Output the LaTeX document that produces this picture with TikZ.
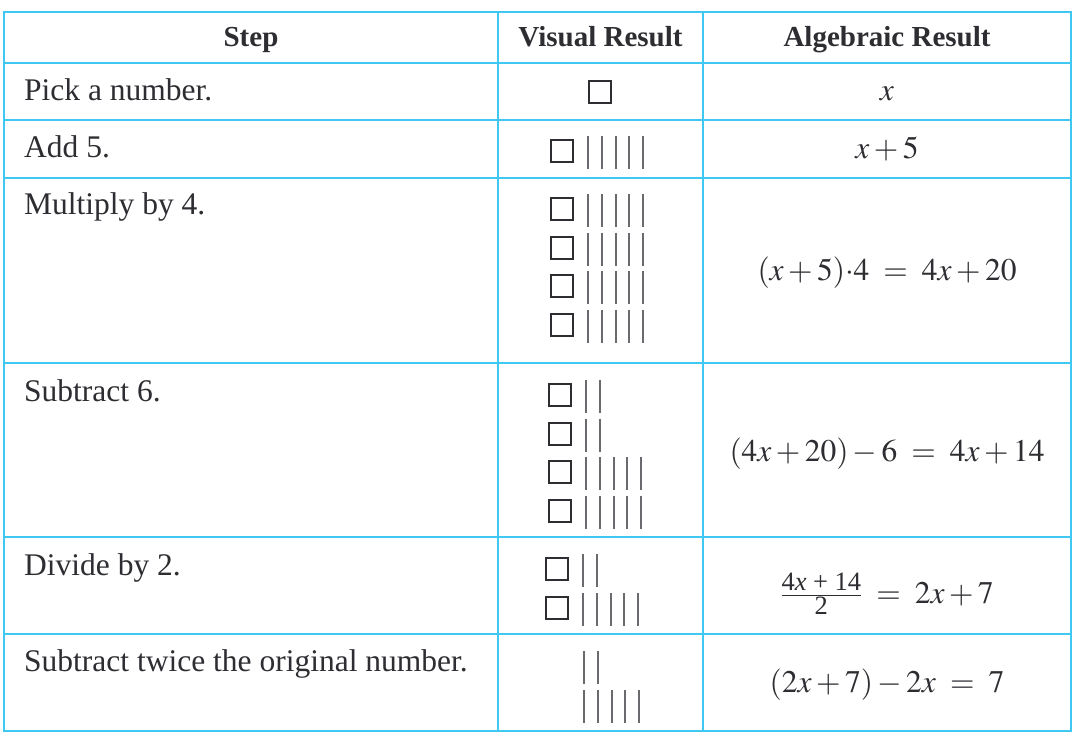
\documentclass[tikz,border=0pt]{standalone}
\usepackage{mathptmx}
\usepackage{fontspec}
\setmainfont{Liberation Serif}
\usetikzlibrary{positioning}
\definecolor{tablecyan}{RGB}{62,200,242}
\definecolor{ink}{RGB}{45,45,50}
\definecolor{tallygray}{RGB}{105,105,110}

% one unit square and a run of tally bars
\newcommand{\unitbox}[2]{\draw[unitsq] (#1,#2) rectangle ++(22,22);}
\newcommand{\tallies}[3]{\foreach \k in {1,...,#3} \draw[tally] ({#1+(\k-1)*13.8},#2) -- ++(0,33);}
\newcommand{\fracpart}[1]{\hbox{\fontsize{26.5}{28}\selectfont #1}}

\begin{document}
\begin{tikzpicture}[x=1pt,y=-1pt,
      gridline/.style={draw=tablecyan, line width=2.5pt},
      head/.style={anchor=base, inner sep=0, text=ink, font=\fontsize{29}{34}\selectfont\bfseries},
      stepcell/.style={anchor=base west, inner sep=0, text=ink, font=\fontsize{31.5}{36}\selectfont},
      algcell/.style={anchor=base, inner sep=0, text=ink, font=\fontsize{31.5}{36}\selectfont},
      unitsq/.style={draw=ink, line width=2pt},
      tally/.style={draw=tallygray, line width=2pt}
      ]
      \useasboundingbox (0,0) rectangle (1076,740);

      % Grid
      \draw[gridline] (4,12) rectangle (1071,731);
      \foreach \y in {63,120,178,363,537,634}
        \draw[gridline] (4,\y) -- (1071,\y);
      \foreach \x in {498,703}
        \draw[gridline] (\x,12) -- (\x,731);

      % Header
      \node[head] (hstep) at (251,46) {Step};
      \node[head] (hvis) at (600.5,46) {Visual Result};
      \node[head] (halg) at (887,46) {Algebraic Result};

      % Steps
      \node[stepcell] (s1) at (24,100) {Pick a number.};
      \node[stepcell] (s2) at (24,157) {Add 5.};
      \node[stepcell] (s3) at (24,214) {Multiply by 4.};
      \node[stepcell] (s4) at (24,401) {Subtract 6.};
      \node[stepcell] (s5) at (24,575) {Divide by 2.};
      \node[stepcell] (s6) at (24,671) {Subtract twice the original number.};

      % Algebraic results
      \node[algcell] (a1) at (887,100) {$x$};
      \node[algcell] (a2) at (887,158) {$x+5$};
      \node[algcell] (a3) at (887,280) {$(x+5){\cdot}4 \;=\; 4x+20$};
      \node[algcell] (a4) at (887,461) {$(4x+20)-6 \;=\; 4x+14$};
      \node[algcell] (a5) at (887,603) {$\frac{\fracpart{4\textit{x} + 14}}{\fracpart{2}} \;=\; 2x+7$};
      \node[algcell] (a6) at (887,692) {$(2x+7)-2x \;=\; 7$};

      % Visual results
      \unitbox{589}{81}
      \unitbox{551}{140} \tallies{588}{136}{5}
      \foreach \y in {198,236.5,275,313.5} {
        \unitbox{551}{\y} \tallies{588}{\y-4}{5}
      }
      \foreach \y/\n in {384/2,422.5/2,461/5,499.5/5} {
        \unitbox{549}{\y} \tallies{586}{\y-4}{\n}
      }
      \unitbox{546}{558} \tallies{583}{554}{2}
      \unitbox{546}{597} \tallies{583}{593}{5}
      \tallies{584}{651}{2}
      \tallies{584}{690}{5}

    \end{tikzpicture}
\end{document}
